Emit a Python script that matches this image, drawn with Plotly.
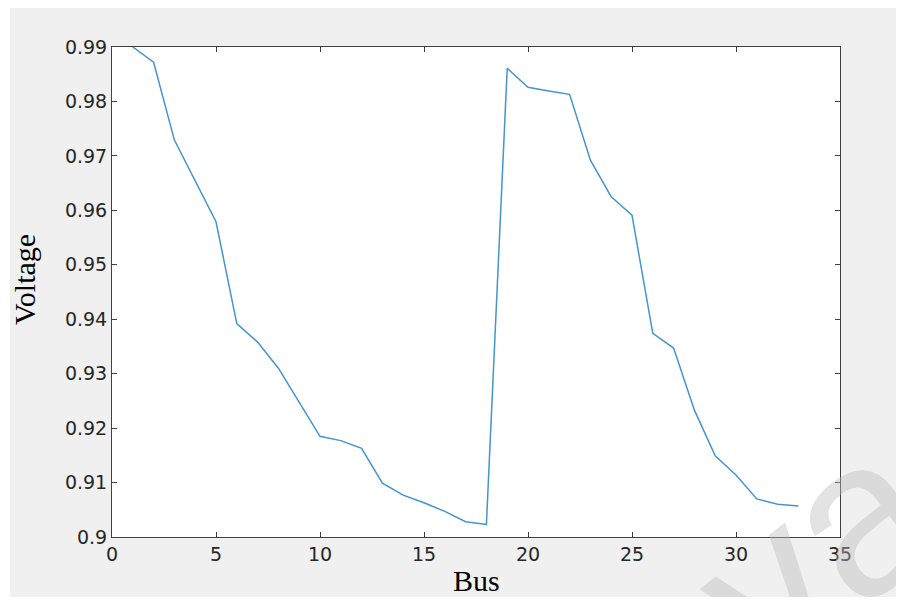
import plotly.graph_objects as go

bus = list(range(1, 34))
voltage = [0.9900, 0.9872, 0.9729, 0.9654, 0.9579, 0.9392, 0.9358, 0.9310, 0.9247, 0.9185,
           0.9177, 0.9163, 0.9099, 0.9077, 0.9063, 0.9047, 0.9028, 0.9023, 0.9861, 0.9826,
           0.9819, 0.9813, 0.9692, 0.9625, 0.9591, 0.9374, 0.9347, 0.9233, 0.9149, 0.9114,
           0.9070, 0.9060, 0.9057]

x_ticks = [0, 5, 10, 15, 20, 25, 30, 35]
y_ticks = [0.90, 0.91, 0.92, 0.93, 0.94, 0.95, 0.96, 0.97, 0.98, 0.99]
y_ticklabels = ["0.9", "0.91", "0.92", "0.93", "0.94", "0.95", "0.96", "0.97", "0.98", "0.99"]

# page offset of the figure (browser body margin)
OX, OY = 8, 8
W, H = 904 - OX, 597 - OY
# plot area in page pixels
PL, PR, PT, PB = 112, 840, 47, 537
L, T = PL - OX, PT - OY
pw, ph = PR - PL, PB - PT
R, B = W - L - pw, H - T - ph

def px(x):  # page x -> paper
    return (x - PL) / pw

def py(y):  # page y -> paper
    return (PB - y) / ph

fig = go.Figure()
fig.add_trace(go.Scatter(x=bus, y=voltage, mode="lines",
                         line=dict(color="#4494d0", width=1.5),
                         showlegend=False, hoverinfo="x+y"))

axis_common = dict(showgrid=False, zeroline=False, showline=True, linecolor="#404040",
                   linewidth=1, mirror="ticks", ticks="inside", ticklen=5, tickcolor="#404040",
                   tickwidth=1, tickfont=dict(family="DejaVu Sans", size=19, color="#262626"))

fig.update_xaxes(range=[0, 35], tickvals=x_ticks, **axis_common)
fig.update_yaxes(range=[0.9, 0.99], tickvals=y_ticks, ticktext=y_ticklabels, **axis_common)

shapes = [
    dict(type="rect", xref="paper", yref="paper", x0=px(0), x1=px(10), y0=py(610), y1=py(0),
         fillcolor="white", line=dict(width=0), layer="above"),
]

annotations = [
    dict(text="Voltage", xref="paper", yref="paper", x=px(24), y=py(280), textangle=-90,
         showarrow=False, font=dict(family="Liberation Serif, Times New Roman", size=30, color="black"),
         xanchor="center", yanchor="middle"),
    dict(text="Bus", xref="paper", yref="paper", x=px(476), y=py(599), showarrow=False,
         font=dict(family="Liberation Serif, Times New Roman", size=30, color="black"),
         xanchor="center", yanchor="bottom"),
    dict(text="va", xref="paper", yref="paper", x=px(815), y=py(550), showarrow=False,
         textangle=-38, font=dict(family="Liberation Sans, Arial", size=220, color="rgba(185,185,185,0.4)"),
         xanchor="center", yanchor="middle"),
]

fig.update_layout(width=W, height=H, margin=dict(l=L, r=R, t=T, b=B),
                  paper_bgcolor="#f0f0f0", plot_bgcolor="white",
                  shapes=shapes, annotations=annotations)

fig.write_html("out.html")
